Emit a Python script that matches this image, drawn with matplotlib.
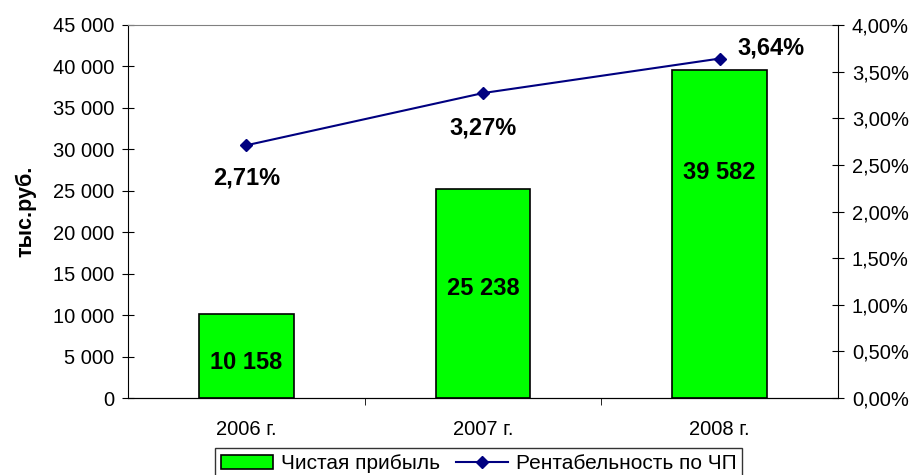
import matplotlib.pyplot as plt
import numpy as np

plt.rcParams['font.family'] = ['Liberation Sans', 'DejaVu Sans']

years = ['2006 г.', '2007 г.', '2008 г.']
profit = [10158, 25238, 39582]
profit_labels = ['10 158', '25 238', '39 582']
margin = [2.71, 3.27, 3.64]
margin_labels = ['2,71%', '3,27%', '3,64%']

left_ticks = np.arange(0, 45001, 5000)
right_ticks = np.arange(0, 4.01, 0.5)

fig = plt.figure(figsize=(9.17, 4.75), dpi=100)
ax = fig.add_axes([128 / 917, 77 / 475, 710 / 917, 373 / 475])
x = np.arange(len(years))

bars = ax.bar(x, profit, width=0.4, color='#00ff00', edgecolor='black', linewidth=1.2,
              label='Чистая прибыль', zorder=2)
ax.set_xlim(-0.5, 2.5)
ax.set_ylim(0, 45000)
ax.set_yticks(left_ticks)
ax.set_yticklabels([f'{v:,}'.replace(',', ' ') for v in left_ticks], fontsize=14.5)
ax.set_xticks(x)
ax.set_xticklabels(years, fontsize=14.5)
ax.set_xticks([0.5, 1.5], minor=True)
ax.tick_params(axis='x', which='major', length=0, pad=16)
ax.tick_params(axis='x', which='minor', length=5, direction='out', color='black')
ax.tick_params(axis='y', direction='inout', length=8, color='black', pad=6)
ax.set_ylabel('тыс.руб.', fontsize=15.5, fontweight='bold', labelpad=12)
ax.spines['top'].set_color('#808080')
ax.spines['right'].set_visible(False)

label_y = [4340, 13270, 27260]
for xi, yl, t in zip(x, label_y, profit_labels):
    ax.text(xi, yl, t, ha='center', va='center', fontsize=17, fontweight='bold', zorder=4)

ax2 = ax.twinx()
ax2.set_ylim(0, 4)
ax2.set_yticks(right_ticks)
ax2.set_yticklabels([f'{v:.2f}%'.replace('.', ',') for v in right_ticks], fontsize=14.5)
ax2.tick_params(axis='y', direction='inout', length=8, color='black', pad=6)
ax2.spines['top'].set_visible(False)
ax2.spines['left'].set_visible(False)
line, = ax2.plot(x, margin, color='#000080', marker='D', markersize=6, linewidth=1.5,
                 label='Рентабельность по ЧП', zorder=3)

offsets = [(0, -0.35), (0, -0.375), (0.215, 0.11)]
for xi, m, t, (dx, dy) in zip(x, margin, margin_labels, offsets):
    ax2.text(xi + dx, m + dy, t, ha='center', va='center', fontsize=17, fontweight='bold')

leg = fig.legend(handles=[bars, line], loc='upper center', bbox_to_anchor=(0.522, 1 - 448 / 475),
                 ncol=2, fontsize=15, frameon=True, fancybox=False, edgecolor='black',
                 borderpad=0.3, handlelength=2.5, columnspacing=0.8, handletextpad=0.35,
                 borderaxespad=0)
leg.get_frame().set_linewidth(1)

fig.savefig('out.png', dpi=100)
